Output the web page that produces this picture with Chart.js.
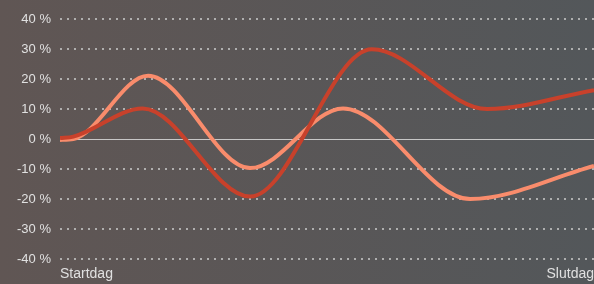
<!DOCTYPE html>
<html><head><meta charset="utf-8">
<script src="https://cdn.jsdelivr.net/npm/chart.js@4/dist/chart.umd.min.js"></script>
<style>
html,body{margin:0;padding:0;}
#wrap{width:594px;height:284px;background:linear-gradient(to right,#605654,#53575a);}
</style></head><body>
<div id="wrap"><canvas id="c" width="594" height="284"></canvas></div>
<script>
const xLabels = ["Startdag", "Slutdag"];
const yTicks = [-40, -30, -20, -10, 0, 10, 20, 30, 40];
const seriesAX = [0, 2.5, 15.5, 35.6, 58.4, 80, 100];
const seriesAY = [0.3, 0.8, 10.2, -19.2, 29.9, 10, 16.3];
const seriesBX = [0, 2.5, 16.5, 35.6, 53, 76.8, 100];
const seriesBY = [-0.3, 0, 21.1, -9.7, 10.2, -20, -9];

const pts = (xs, ys) => xs.map((x, i) => ({x: x, y: ys[i]}));

const zeroLine = {
  id: 'zeroLine',
  beforeDatasetsDraw(chart) {
    const {ctx, chartArea, scales} = chart;
    const y = Math.round(scales.y.getPixelForValue(0)) + 0.5;
    ctx.save();
    ctx.strokeStyle = 'rgba(205,205,205,0.95)';
    ctx.lineWidth = 1;
    ctx.beginPath();
    ctx.moveTo(chartArea.left, y);
    ctx.lineTo(chartArea.right, y);
    ctx.stroke();
    ctx.restore();
  }
};

new Chart(document.getElementById('c'), {
  type: 'line',
  data: {
    datasets: [
      {data: pts(seriesAX, seriesAY), borderColor: '#c8412b', borderWidth: 4, pointRadius: 0, cubicInterpolationMode: 'monotone', fill: false},
      {data: pts(seriesBX, seriesBY), borderColor: '#f98c6c', borderWidth: 4, pointRadius: 0, cubicInterpolationMode: 'monotone', fill: false}
    ]
  },
  options: {
    responsive: false,
    animation: false,
    events: [],
    layout: {padding: {top: 19, right: 0, bottom: 0, left: 0}},
    plugins: {legend: {display: false}, tooltip: {enabled: false}},
    scales: {
      x: {
        type: 'linear', min: 0, max: 100,
        afterBuildTicks(s) { s.ticks = [{value: 0}, {value: 100}]; },
        afterFit(s) { s.height = 25; s.paddingLeft = 0; s.paddingRight = 0; },
        grid: {display: false, drawTicks: false},
        border: {display: false},
        ticks: {
          align: 'inner', padding: 7, maxRotation: 0, autoSkip: false,
          color: '#e0e0e0', font: {family: "'Liberation Sans', Arial, sans-serif", size: 14},
          callback: (v) => v === 0 ? xLabels[0] : xLabels[1]
        }
      },
      y: {
        min: -40, max: 40,
        afterBuildTicks(s) { s.ticks = yTicks.map(v => ({value: v})); },
        afterFit(s) { s.width = 60; },
        grid: {
          drawTicks: false, lineWidth: 2,
          color: (ctx) => ctx.tick && ctx.tick.value === 0 ? 'rgba(0,0,0,0)' : 'rgba(190,190,190,0.85)'
        },
        border: {display: false, dash: [2, 5]},
        ticks: {
          padding: 9,
          color: '#e0e0e0', font: {family: "'Liberation Sans', Arial, sans-serif", size: 13},
          callback: (v) => v + ' %'
        }
      }
    }
  },
  plugins: [zeroLine]
});
</script>
</body></html>
